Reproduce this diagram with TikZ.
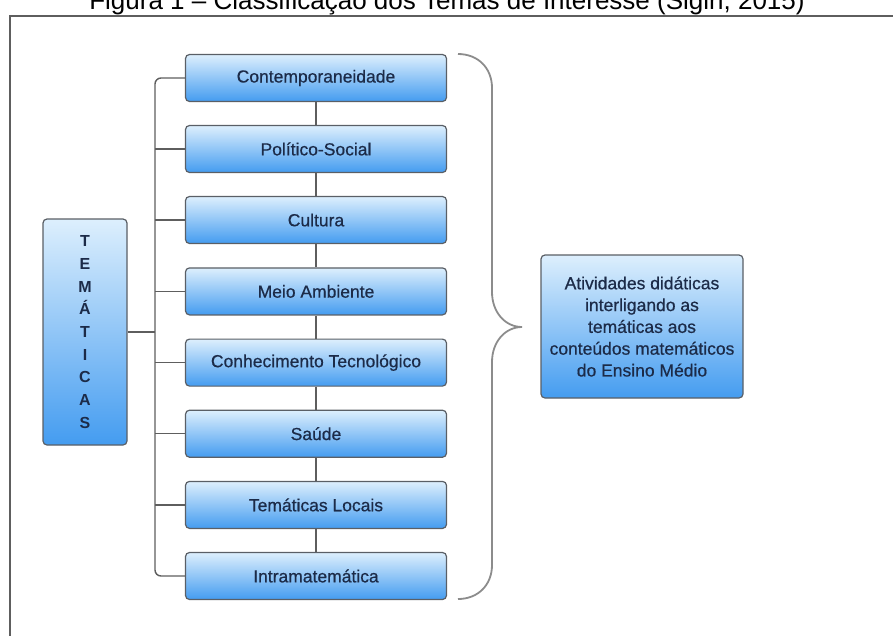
\documentclass[tikz,border=0pt]{standalone}
\usepackage{fontspec}
\setmainfont{Liberation Sans}
\newfontfamily\medfont[FakeBold=0.6]{Liberation Sans}
\definecolor{boxtop}{HTML}{DDEFFD}
\definecolor{boxbot}{HTML}{449CF0}
\definecolor{boxline}{HTML}{5A5F66}
\definecolor{txt}{HTML}{1C2B48}
\definecolor{conncol}{HTML}{5E5E5E}
\definecolor{bracecol}{HTML}{8C8C8C}
\tikzset{
  tbox/.style={rectangle, rounded corners=4pt, draw=boxline, line width=1.2pt,
    top color=boxtop, bottom color=boxbot, text=txt, inner sep=2pt},
  item/.style={tbox, minimum width=261pt, minimum height=47pt,
    font=\medfont\fontsize{17.5}{20}\selectfont},
  conn/.style={draw=conncol, line width=1.4pt},
  bracestyle/.style={draw=bracecol, line width=1.8pt},
}
\begin{document}
\begin{tikzpicture}[x=1pt,y=-1pt]
\useasboundingbox (0,0) rectangle (893,635);
% title and frame
\node[anchor=base, font=\fontsize{26}{30}\selectfont, text=black, inner sep=0pt] (title) at (447,9)
  {Figura 1 -- Classificação dos Temas de Interesse (Sigin, 2015)};
\draw[draw=conncol, line width=1.5pt] (900,16) -- (10,16) -- (10,640);
% item boxes
\node[item] (b1) at (316,78) {Contemporaneidade};
\node[item] (b2) at (316,149) {Político-Social};
\node[item] (b3) at (316,220) {Cultura};
\node[item] (b4) at (316,291.4) {Meio Ambiente};
\node[item] (b5) at (316,362.6) {Conhecimento Tecnológico};
\node[item] (b6) at (316,433.7) {Saúde};
\node[item] (b7) at (316,504.9) {Temáticas Locais};
\node[item] (b8) at (316,576) {Intramatemática};
% left box
\node[tbox, minimum width=84pt, minimum height=226pt, align=center,
  font=\fontsize{16}{22.7}\selectfont\bfseries] (tem) at (85,332)
  {T\\E\\M\\Á\\T\\I\\C\\A\\S};
% right box
\node[tbox, minimum width=202pt, minimum height=143pt, align=center,
  font=\medfont\fontsize{17.5}{21.8}\selectfont] (res) at (642,326.5)
  {Atividades didáticas\\interligando as\\temáticas aos\\conteúdos matemáticos\\do Ensino Médio};
% spine
\coordinate (spine) at (155,332);
\draw[conn, rounded corners=6pt] (b1.west) -- (b1.west -| spine) -- (b8.west -| spine) -- (b8.west);
\foreach \b in {b2,b3,b4,b5,b6,b7}{
  \draw[conn] (\b.west) -- (\b.west -| spine);
}
\draw[conn] (tem.east) -- (spine);
% vertical links
\draw[conn] (b1.south) -- (b2.north);
\draw[conn] (b2.south) -- (b3.north);
\draw[conn] (b3.south) -- (b4.north);
\draw[conn] (b4.south) -- (b5.north);
\draw[conn] (b5.south) -- (b6.north);
\draw[conn] (b6.south) -- (b7.north);
\draw[conn] (b7.south) -- (b8.north);
% brace
\draw[bracestyle] (458,54) .. controls (478,54) and (492,68) .. (492,88)
  -- (492,292) .. controls (492,312) and (505,327) .. (522,327)
  .. controls (505,327) and (492,342) .. (492,362)
  -- (492,565) .. controls (492,585) and (478,599) .. (458,599);
\end{tikzpicture}
\end{document}
